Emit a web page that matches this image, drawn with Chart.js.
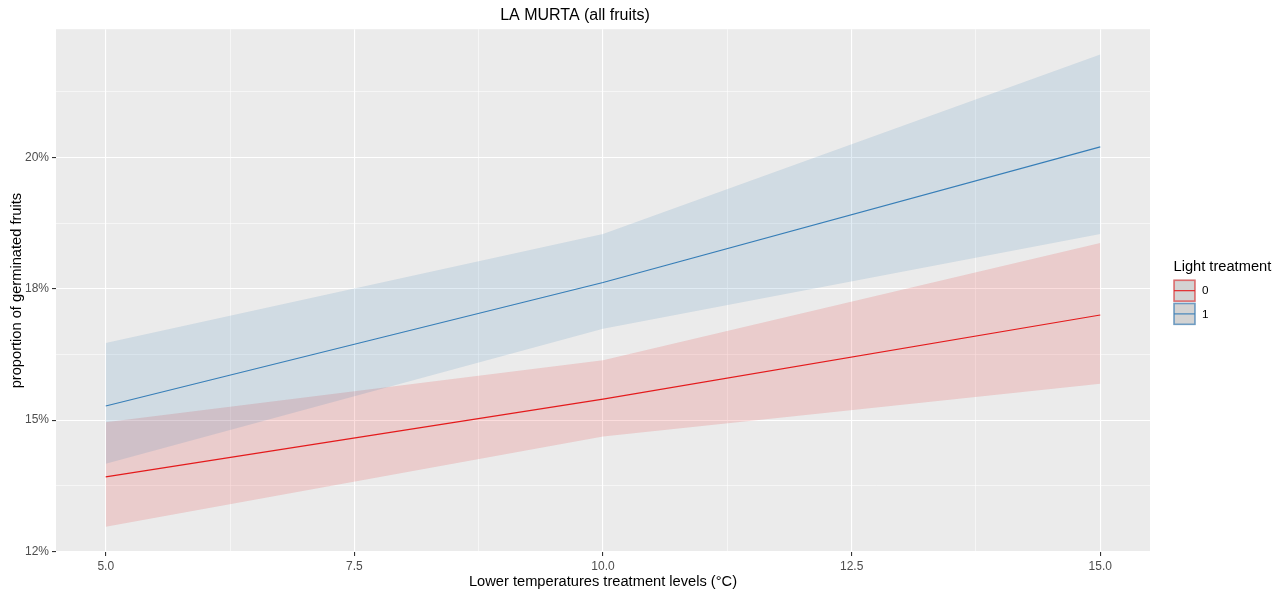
<!DOCTYPE html>
<html>
<head>
<meta charset="utf-8">
<script src="https://cdn.jsdelivr.net/npm/chart.js@4.4.1/dist/chart.umd.min.js"></script>
<style>
  html, body { margin: 0; padding: 0; background: #ffffff; }
  #wrap { width: 1283px; height: 595px; }
</style>
</head>
<body>
<div id="wrap"><canvas id="c" width="1283" height="595"></canvas></div>
<script>
// ---- data ----
const temps = [5, 10, 15];
const fitLight0 = [13.92, 15.40, 17.00];
const lowLight0 = [12.97, 14.69, 15.69];
const uppLight0 = [14.96, 16.14, 18.37];
const fitLight1 = [15.27, 17.62, 20.20];
const lowLight1 = [14.17, 16.74, 18.54];
const uppLight1 = [16.47, 18.54, 21.96];

const xMajorTicks = [5, 7.5, 10, 12.5, 15];
const xTickLabels = ['5.0', '7.5', '10.0', '12.5', '15.0'];
const xMinorTicks = [6.25, 8.75, 11.25, 13.75];
const yMajorTicks = [12.5, 15, 17.5, 20];
const yTickLabels = ['12%', '15%', '18%', '20%'];
const yMinorTicks = [13.75, 16.25, 18.75, 21.25];

const seriesNames = ['0', '1'];
const titleText = 'LA MURTA (all fruits)';
const xTitle = 'Lower temperatures treatment levels (\u00B0C)';
const yTitle = 'proportion of germinated fruits';
const legendTitle = 'Light treatment';

// ---- styles ----
const RED = 'rgb(228,26,28)';
const BLUE = 'rgb(55,126,184)';
const RED_FILL = 'rgba(228,26,28,0.15)';
const BLUE_FILL = 'rgba(55,126,184,0.15)';
const FONT = "'Liberation Sans', Arial, Helvetica, sans-serif";

const pts = (ys) => temps.map((t, i) => ({ x: t, y: ys[i] }));

const band = (label, ys, fill) => ({
  label, data: pts(ys), fill, backgroundColor: 'transparent',
  borderColor: 'transparent', borderWidth: 0, pointRadius: 0, pointHoverRadius: 0, tension: 0
});

const panelBg = {
  id: 'panelBg',
  beforeDraw(chart) {
    const { ctx, chartArea: a } = chart;
    ctx.save();
    ctx.fillStyle = '#EBEBEB';
    ctx.fillRect(a.left, a.top, a.right - a.left, a.bottom - a.top);
    ctx.restore();
  }
};

const legendPlugin = {
  id: 'ggLegend',
  afterDraw(chart) {
    const ctx = chart.ctx;
    ctx.save();
    ctx.fillStyle = '#000000';
    ctx.font = '14.67px ' + FONT;
    ctx.textBaseline = 'alphabetic';
    ctx.textAlign = 'left';
    ctx.fillText(legendTitle, 1173.5, 271);
    const cols = [RED, BLUE];
    const borders = ['rgba(228,26,28,0.55)', 'rgba(55,126,184,0.65)'];
    for (let i = 0; i < 2; i++) {
      const x0 = 1173.3, y0 = 279.5 + i * 23.2, w = 22.4, h = 22.4;
      ctx.fillStyle = '#D3D3D3';
      ctx.fillRect(x0, y0, w, h);
      ctx.strokeStyle = borders[i];
      ctx.lineWidth = 1.6;
      ctx.strokeRect(x0 + 0.8, y0 + 0.8, w - 1.6, h - 1.6);
      ctx.strokeStyle = cols[i];
      ctx.lineWidth = 1.1;
      ctx.beginPath();
      ctx.moveTo(x0 + 0.8, y0 + h / 2);
      ctx.lineTo(x0 + w - 0.8, y0 + h / 2);
      ctx.stroke();
      ctx.fillStyle = '#000000';
      ctx.font = '11.7px ' + FONT;
      ctx.textBaseline = 'middle';
      ctx.fillText(seriesNames[i], 1202, y0 + h / 2 + 0.5);
    }
    ctx.restore();
  }
};

const isIn = (arr, v) => arr.some(a => Math.abs(a - v) < 1e-9);

new Chart(document.getElementById('c'), {
  type: 'line',
  data: {
    datasets: [
      band('upper 1', uppLight1, { target: '+1', above: BLUE_FILL, below: BLUE_FILL }),
      band('lower 1', lowLight1, false),
      band('upper 0', uppLight0, { target: '+1', above: RED_FILL, below: RED_FILL }),
      band('lower 0', lowLight0, false),
      { label: seriesNames[1], data: pts(fitLight1), borderColor: BLUE, borderWidth: 1.1, pointRadius: 0, fill: false, tension: 0 },
      { label: seriesNames[0], data: pts(fitLight0), borderColor: RED, borderWidth: 1.1, pointRadius: 0, fill: false, tension: 0 }
    ]
  },
  options: {
    responsive: false,
    animation: false,
    devicePixelRatio: 1,
    events: [],
    layout: { padding: { left: 0, right: 133, top: 0, bottom: 0 } },
    plugins: {
      legend: { display: false },
      tooltip: { enabled: false },
      filler: { propagate: false },
      title: {
        display: true, text: titleText, color: '#000000',
        font: { family: FONT, size: 16, weight: 'normal', lineHeight: 1.2 },
        padding: { top: 5.5, bottom: 4.5 }
      }
    },
    scales: {
      x: {
        type: 'linear', min: 4.5, max: 15.5,
        afterBuildTicks: (s) => { s.ticks = xMajorTicks.concat(xMinorTicks).sort((a, b) => a - b).map(v => ({ value: v })); },
        afterFit: (s) => { s.height = 43; },
        border: { display: false },
        grid: {
          drawOnChartArea: true, drawTicks: true, tickLength: 4,
          color: '#FFFFFF',
          lineWidth: (c) => isIn(xMajorTicks, c.tick.value) ? 1.1 : 0.55,
          tickColor: (c) => isIn(xMajorTicks, c.tick.value) ? '#333333' : 'rgba(0,0,0,0)',
          tickWidth: 1.1
        },
        ticks: {
          autoSkip: false, maxRotation: 0, padding: 3, color: '#4D4D4D',
          font: { family: FONT, size: 12 },
          callback: (v) => { const i = xMajorTicks.findIndex(a => Math.abs(a - v) < 1e-9); return i >= 0 ? xTickLabels[i] : ''; }
        },
        title: {
          display: true, text: xTitle, color: '#000000',
          font: { family: FONT, size: 14.67, lineHeight: 1.2 },
          padding: { top: 0, bottom: 4 }
        }
      },
      y: {
        type: 'linear', min: 12.49, max: 22.44,
        afterBuildTicks: (s) => { s.ticks = yMajorTicks.concat(yMinorTicks).sort((a, b) => a - b).map(v => ({ value: v })); },
        afterFit: (s) => { s.width = 56; },
        border: { display: false },
        grid: {
          drawOnChartArea: true, drawTicks: true, tickLength: 4,
          color: '#FFFFFF',
          lineWidth: (c) => isIn(yMajorTicks, c.tick.value) ? 1.1 : 0.55,
          tickColor: (c) => isIn(yMajorTicks, c.tick.value) ? '#333333' : 'rgba(0,0,0,0)',
          tickWidth: 1.1
        },
        ticks: {
          autoSkip: false, padding: 3, color: '#4D4D4D',
          font: { family: FONT, size: 12 },
          callback: (v) => { const i = yMajorTicks.findIndex(a => Math.abs(a - v) < 1e-9); return i >= 0 ? yTickLabels[i] : ''; }
        },
        title: {
          display: true, text: yTitle, color: '#000000',
          font: { family: FONT, size: 14.67, lineHeight: 1.2 },
          padding: { top: 8.5, bottom: 0 }
        }
      }
    }
  },
  plugins: [panelBg, legendPlugin]
});
</script>
</body>
</html>
